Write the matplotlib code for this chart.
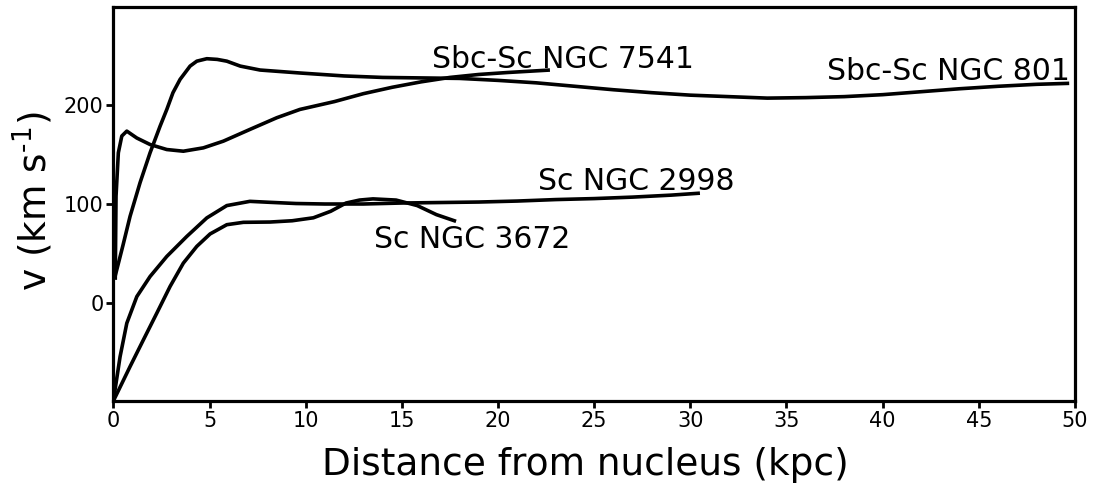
import numpy as np
import matplotlib
matplotlib.use("Agg")
import matplotlib.pyplot as plt

# rotation curves (kpc, km/s)
x_7541 = [0.1, 0.14, 0.26, 0.44, 0.7, 1.22, 1.91, 2.78, 3.64, 4.68, 5.72, 7.1, 8.5,
          9.7, 11.5, 13.0, 14.5, 16.0, 17.5, 19.0, 20.5, 22.7]
v_7541 = [23, 108, 152, 169, 174, 167, 160.4, 155.3, 153.6, 157, 163.8, 175.7, 187.6,
          196, 204, 212, 218.5, 224, 228.5, 231.5, 233.5, 236]

x_801 = [0.09, 0.5, 0.87, 1.39, 1.91, 2.43, 2.78, 3.1, 3.47, 3.99, 4.34, 4.86, 5.4,
         5.9, 6.6, 7.63, 9.7, 12, 14, 16, 18, 20, 22, 24, 26, 28, 30, 32, 34, 36, 38,
         40, 42, 44, 46, 48, 49.7]
v_801 = [26.5, 58, 87.5, 121.7, 152, 179, 196, 213, 226.5, 240, 245, 247.5, 246.8,
         245, 240, 236, 233, 230, 228.5, 228, 227.5, 225.5, 223, 219.5, 216, 213,
         210.5, 209, 207.5, 208, 209, 211, 214, 217, 219.5, 221.5, 222.5]

x_2998 = [0.0, 0.35, 0.7, 1.22, 1.91, 2.78, 3.82, 4.86, 5.9, 7.1, 8.15, 9.5, 11, 13,
          15, 17, 19, 21, 23, 25, 27, 29, 30.5]
v_2998 = [-100, -55, -21, 6, 26.4, 46.8, 67.1, 85.9, 98.4, 102.7, 101.7, 100.5, 100,
          100, 101, 101.5, 102, 103, 104.5, 105.5, 107, 109, 111]

x_3672 = [0.0, 0.87, 1.56, 2.26, 2.95, 3.64, 4.34, 5.03, 5.9, 6.76, 8.15, 9.3, 10.4,
          11.3, 12.1, 12.8, 13.5, 14.7, 15.8, 16.8, 17.82]
v_3672 = [-100, -65, -38, -10.8, 16.3, 40, 57, 69.6, 79, 81.4, 81.7, 83, 86,
          92.6, 101, 104, 105.2, 104, 98.4, 89.2, 82.4]

labels = ["Sbc-Sc NGC 7541", "Sbc-Sc NGC 801", "Sc NGC 2998", "Sc NGC 3672"]

fig = plt.figure(figsize=(10.94, 4.96), dpi=100)
ax = fig.add_axes([0.1036, 0.1915, 0.8790, 0.7944])

for xs, vs in [(x_7541, v_7541), (x_801, v_801), (x_2998, v_2998), (x_3672, v_3672)]:
    ax.plot(xs, vs, color='black', lw=2.6, solid_joinstyle='round', solid_capstyle='butt')

fs = 21.5
ax.text(16.55, 238.5, labels[0], fontsize=fs, ha='left', va='baseline')
ax.text(49.75, 226.0, labels[1], fontsize=fs, ha='right', va='baseline')
ax.text(22.1, 114.5, labels[2], fontsize=fs, ha='left', va='baseline')
ax.text(13.55, 55.5, labels[3], fontsize=fs, ha='left', va='baseline')

ax.set_xlim(0, 50)
ax.set_ylim(-100, 300)
ax.set_xticks(np.arange(0, 51, 5))
ax.set_yticks([0, 100, 200])
ax.tick_params(labelsize=15, width=2, length=5, direction='out', pad=2)
for s in ax.spines.values():
    s.set_linewidth(2.3)

fig.text(0.535, 0.062, "Distance from nucleus (kpc)", fontsize=27, ha='center', va='center')
fig.text(0.030, 0.594, "v (km s$^{\\text{-1}}$)", fontsize=27, ha='center', va='center', rotation=90)

fig.savefig("out.png", dpi=100)
